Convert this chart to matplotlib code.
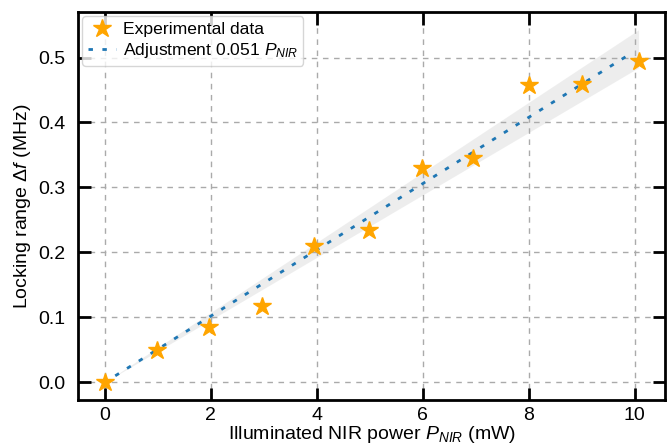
import matplotlib
matplotlib.use('Agg')
import matplotlib.pyplot as plt
import numpy as np

plt.rcParams['font.family'] = ['Liberation Sans', 'DejaVu Sans']
plt.rcParams['mathtext.fontset'] = 'custom'
plt.rcParams['mathtext.rm'] = 'Liberation Sans'
plt.rcParams['mathtext.it'] = 'Liberation Sans:italic'

# measured points
power = [0.0, 0.98, 1.97, 2.97, 3.94, 4.98, 5.99, 6.95, 8.01, 9.01, 10.07]
lock_range = [0.0, 0.050, 0.085, 0.117, 0.210, 0.234, 0.330, 0.345, 0.457, 0.459, 0.495]

# linear fit
slope = 0.051
slope_err = 0.0029
fit_start = 0.2
fit_end = 10.07

fig = plt.figure(figsize=(6.72, 4.47), dpi=100)
ax = fig.add_axes([0.116, 0.105, 0.874, 0.868])

xf = np.linspace(fit_start, fit_end, 50)
ax.fill_between(xf, (slope - slope_err) * xf, (slope + slope_err) * xf,
                color='#dddddd', lw=0, alpha=0.5, zorder=1)
ax.plot(power, lock_range, ls='none', marker='*', ms=13.5, color='orange',
        mec='orange', label='Experimental data', zorder=3)
ax.plot(xf[xf <= 10.0], slope * xf[xf <= 10.0], color='#1f77b4', lw=2,
        ls=(0, (1.6, 3.4)), label=r'Adjustment 0.051 $P_{NIR}$', zorder=2)

ax.set_xticks([0, 2, 4, 6, 8, 10])
ax.set_yticks([0.0, 0.1, 0.2, 0.3, 0.4, 0.5])
ax.grid(True, ls=(0, (4, 4)), color='#aaaaaa', lw=1)
ax.tick_params(direction='in', length=9, width=2, labelsize=14,
               top=True, right=True)
ax.tick_params(axis='x', pad=5)
ax.tick_params(axis='y', pad=9)
for s in ax.spines.values():
    s.set_linewidth(2)

ax.set_xlabel(r'Illuminated NIR power $P_{NIR}$ (mW)', fontsize=14, labelpad=0)
ax.set_ylabel(r'Locking range $\Delta f$ (MHz)', fontsize=14, labelpad=4)
ax.legend(loc='upper left', fontsize=12.6, borderaxespad=0.25, handletextpad=0.4,
          borderpad=0.3, labelspacing=0.25, handlelength=1.6)

fig.savefig('out.png', dpi=100)
